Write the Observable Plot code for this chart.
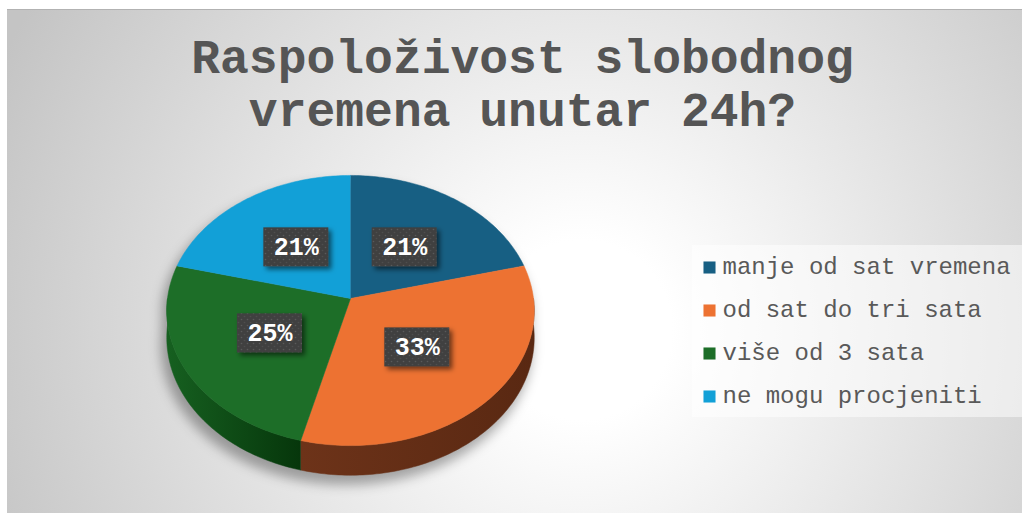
<!DOCTYPE html>
<html>
<head>
<meta charset="utf-8">
<script src="https://cdn.jsdelivr.net/npm/d3@7"></script>
<script src="https://cdn.jsdelivr.net/npm/@observablehq/plot@0.6"></script>
<style>
  html, body { margin: 0; padding: 0; background: #ffffff; }
  #chart { position: relative; width: 1022px; height: 513px; overflow: hidden; }
  #panel {
    position: absolute; left: 7px; top: 9px; right: 0; bottom: 0;
    border-top: 1px solid #b2b2b2;
    background: radial-gradient(circle 640px at 575px 320px, #ffffff 0%, #ffffff 14%, #c4c4c4 100%);
  }
  #chart svg { position: absolute; left: 0; top: 0; }
</style>
</head>
<body>
<div id="chart"><div id="panel"></div></div>
<script>
// Survey answers and their shares (percent)
const categories = ["manje od sat vremena", "od sat do tri sata", "više od 3 sata", "ne mogu procjeniti"];
const shares = [21, 33, 25, 21];
const titleLines = ["Raspoloživost slobodnog", "vremena unutar 24h?"];

// Styling
const sliceColors = ["#175f83", "#ed7232", "#1d6e28", "#12a0d7"];
const wallLight = ["#134f6d", "#6d3319", "#166020", "#0f86b4"];
const wallDark = ["#0b3347", "#592812", "#06360b", "#0a5f80"];
const W = 1022, H = 513;

// Tilted pie seen in perspective: unit disk -> screen
const pie = {cx: 350, cy: 298, a: 183, b: 134, k: 0.089, depth: 27};
function project(theta, r = 1, drop = 0) {
  const u = r * Math.sin(theta), v = -r * Math.cos(theta);
  const w = 1 - pie.k * v;
  return {x: pie.cx + pie.a * u / w, y: pie.cy + (pie.b * v + drop) / w};
}

// Slice angles (clockwise from 12 o'clock)
const total = d3.sum(shares);
let acc = 0;
const slices = categories.map((name, i) => {
  const t0 = acc / total * 2 * Math.PI;
  acc += shares[i];
  const t1 = acc / total * 2 * Math.PI;
  return {name, value: shares[i], i, t0, t1};
});
const wallKey = (name) => "wall " + name;

function arc(t0, t1, drop) {
  const n = Math.max(2, Math.ceil((t1 - t0) / (Math.PI / 180)));
  return d3.range(n + 1).map(j => project(t0 + (t1 - t0) * j / n, 1, drop));
}

// Top faces
const topRows = slices.flatMap(s => {
  const c = project(0, 0, 0);
  return [c, ...arc(s.t0, s.t1, 0)].map(p => ({...p, key: s.name}));
});

// Front side walls (the near half of the rim)
const wallRows = slices.flatMap(s => {
  const s0 = Math.max(s.t0, Math.PI / 2), s1 = Math.min(s.t1, 3 * Math.PI / 2);
  if (s1 <= s0) return [];
  const pts = [...arc(s0, s1, 0), ...arc(s0, s1, pie.depth).reverse()];
  return pts.map(p => ({...p, key: wallKey(s.name)}));
});

// Outline of the whole solid, used for the soft shadow beneath it
const shadowRows = d3.range(0, 361, 2).map(deg => {
  const t = deg * Math.PI / 180;
  const p = project(t, 1.01, -Math.cos(t) < 0 ? 0 : pie.depth);
  return {x: p.x - 4, y: p.y + 8};
});

// Value labels at half radius along each slice's middle angle
const labelRows = slices.map(s => ({...project((s.t0 + s.t1) / 2, 0.5, 0), value: s.value}));
const box = {w: 65, h: 39};

// Legend layout
const legend = {x: 692, y: 245, w: 340, h: 172, row0: 267, step: 43, swatchX: 709, textX: 722};
const legendRows = categories.map((name, i) => ({name, y: legend.row0 + i * legend.step}));

const svg = Plot.plot({
  width: W,
  height: H,
  margin: 0,
  style: {background: "transparent", overflow: "visible"},
  x: {domain: [0, W], range: [0, W], axis: null},
  y: {domain: [0, H], range: [0, H], axis: null},
  color: {
    domain: [...categories, ...categories.map(wallKey)],
    range: [...sliceColors, ...categories.map((_, i) => `url(#wall${i})`)]
  },
  marks: [
    // shadow
    Plot.line(shadowRows, {x: "x", y: "y", fill: "#000000", fillOpacity: 0.32, stroke: "none", ariaDescription: "pie shadow"}),
    // rim walls then top faces
    Plot.line(wallRows, {x: "x", y: "y", z: "key", fill: "key", stroke: "key", strokeWidth: 0.5}),
    Plot.line(topRows, {x: "x", y: "y", z: "key", fill: "key", stroke: "key", strokeWidth: 0.5}),
    // label boxes
    Plot.rect(labelRows, {x1: d => d.x - box.w / 2, x2: d => d.x + box.w / 2, y1: d => d.y - box.h / 2, y2: d => d.y + box.h / 2, fill: "#404040", ariaDescription: "label boxes"}),
    Plot.rect(labelRows, {x1: d => d.x - box.w / 2, x2: d => d.x + box.w / 2, y1: d => d.y - box.h / 2, y2: d => d.y + box.h / 2, fill: "url(#dots)"}),
    Plot.text(labelRows, {x: "x", y: "y", text: d => d.value + "%", fill: "#ffffff", fontFamily: "Liberation Mono", fontWeight: "bold", fontSize: 25}),
    // title
    Plot.text(titleLines, {x: () => 522, y: (d, i) => 57 + i * 53, text: d => d, fill: "#555555", fontFamily: "Liberation Mono", fontWeight: "bold", fontSize: 48}),
    // legend
    Plot.rect([legend], {x1: d => d.x, x2: d => d.x + d.w, y1: d => d.y, y2: d => d.y + d.h, fill: "#ffffff", fillOpacity: 0.5}),
    Plot.dot(legendRows, {x: () => legend.swatchX, y: "y", fill: "name", symbol: "square", r: 6.8, stroke: "none"}),
    Plot.text(legendRows, {x: () => legend.textX, y: d => d.y - 1, text: "name", textAnchor: "start", fill: "#595959", fontFamily: "Liberation Mono", fontSize: 24})
  ]
});

// Gradients, filters and the dotted texture of the label boxes
const defs = d3.select(svg).insert("defs", ":first-child");
categories.forEach((_, i) => {
  const g = defs.append("linearGradient").attr("id", `wall${i}`).attr("x1", 0).attr("y1", 0).attr("x2", 1).attr("y2", 0);
  g.append("stop").attr("offset", 0).attr("stop-color", wallLight[i]);
  g.append("stop").attr("offset", 1).attr("stop-color", wallDark[i]);
});
const pat = defs.append("pattern").attr("id", "dots").attr("width", 6).attr("height", 6).attr("patternUnits", "userSpaceOnUse");
pat.append("circle").attr("cx", 1.5).attr("cy", 1.5).attr("r", 0.8).attr("fill", "#5a5a5a");
pat.append("circle").attr("cx", 4.5).attr("cy", 4.5).attr("r", 0.8).attr("fill", "#4e4e4e");

defs.append("filter").attr("id", "soft").attr("x", "-20%").attr("y", "-20%").attr("width", "140%").attr("height", "140%")
  .append("feGaussianBlur").attr("stdDeviation", 6);
const ds = defs.append("filter").attr("id", "boxShadow").attr("x", "-30%").attr("y", "-30%").attr("width", "160%").attr("height", "160%");
ds.append("feDropShadow").attr("dx", 3).attr("dy", 3).attr("stdDeviation", 2.5).attr("flood-color", "#000").attr("flood-opacity", 0.55);

d3.select(svg).selectAll('g[aria-description="pie shadow"]').attr("filter", "url(#soft)");
d3.select(svg).selectAll('g[aria-description="label boxes"]').attr("filter", "url(#boxShadow)");

document.getElementById("chart").appendChild(svg);
</script>
</body>
</html>
